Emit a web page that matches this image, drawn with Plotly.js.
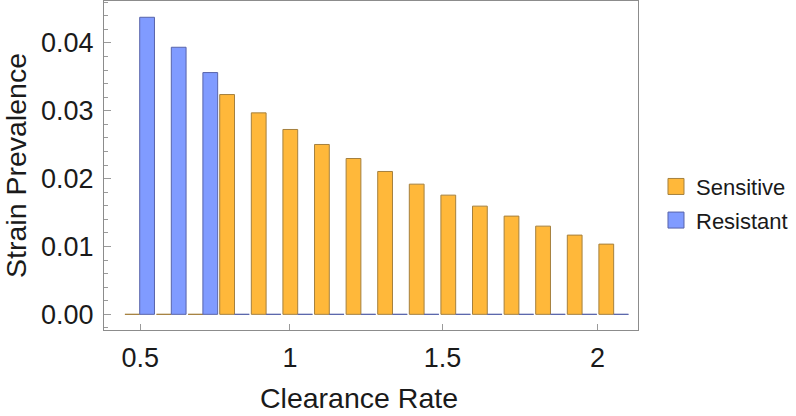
<!DOCTYPE html>
<html><head><meta charset="utf-8">
<script src="https://cdn.plot.ly/plotly-3.0.1.min.js"></script>
<style>html,body{margin:0;padding:0;background:#fff}#chart{width:796px;height:416px}</style>
</head><body><div id="chart"></div>
<script>
// Data
const clearanceRates = [0.5, 0.6, 0.7, 0.8, 0.9, 1.0, 1.1, 1.2, 1.3, 1.4, 1.5, 1.6, 1.7, 1.8, 1.9, 2.0];
const sensitive = [0, 0, 0, 0.0324, 0.0297, 0.02725, 0.02504, 0.02297, 0.02106, 0.01919, 0.01757, 0.01595, 0.01448, 0.0130, 0.01168, 0.01035];
const resistant = [0.04379, 0.03937, 0.03564, 0, 0, 0, 0, 0, 0, 0, 0, 0, 0, 0, 0, 0];
const xTickLabels = ["0.5", "1", "1.5", "2"];
const seriesNames = ["Sensitive", "Resistant"];

const FONT = "Liberation Sans, Arial, Helvetica, sans-serif";
const ORANGE = "rgb(255,184,58)", ORANGE_EDGE = "rgb(165,128,62)";
const BLUE = "rgb(128,155,255)", BLUE_EDGE = "rgb(88,100,170)";

const idx = clearanceRates.map((_, i) => i);

const traces = [
  {type: "bar", x: idx, y: sensitive, name: seriesNames[0], showlegend: false,
   marker: {color: ORANGE, line: {color: ORANGE_EDGE, width: 1}}, hoverinfo: "skip"},
  {type: "bar", x: idx, y: resistant, name: seriesNames[1], showlegend: false,
   marker: {color: BLUE, line: {color: BLUE_EDGE, width: 1}}, hoverinfo: "skip"},
  {type: "scatter", mode: "markers", x: [null], y: [null], name: seriesNames[0], legendgroup: "a",
   marker: {symbol: "square", size: 16, color: ORANGE, line: {color: ORANGE_EDGE, width: 1}}},
  {type: "scatter", mode: "markers", x: [null], y: [null], name: seriesNames[1], legendgroup: "b",
   marker: {symbol: "square", size: 16, color: BLUE, line: {color: BLUE_EDGE, width: 1}}}
];

const layout = {
  width: 796, height: 416,
  margin: {l: 104, r: 158, t: 1, b: 86},
  paper_bgcolor: "#fff", plot_bgcolor: "#fff",
  font: {family: FONT, color: "#1a1a1a"},
  barmode: "group", bargap: 0.065, bargroupgap: 0,
  showlegend: true,
  legend: {x: 1.0337, xanchor: "left", y: 0.384, yanchor: "middle",
           font: {family: FONT, size: 22, color: "#1a1a1a"}, tracegroupgap: 2,
           bgcolor: "rgba(0,0,0,0)", borderwidth: 0},
  xaxis: {
    range: [-1.13, 15.77], tickmode: "array",
    tickvals: [0.02, 4.756, 9.58, 14.49], ticktext: xTickLabels,
    ticks: "inside", ticklen: 6, tickcolor: "#9a9a9a", tickwidth: 1,
    showline: true, mirror: true, linecolor: "#8c8c8c", linewidth: 1,
    showgrid: false, zeroline: false,
    tickfont: {family: FONT, size: 27, color: "#1a1a1a"},
    ticklabelstandoff: 4
  },
  yaxis: {
    range: [-0.00231, 0.04619], dtick: 0.01, tick0: 0, tickformat: ".2f",
    ticks: "inside", ticklen: 7, tickcolor: "#9a9a9a", tickwidth: 1,
    minor: {dtick: 0.002, ticks: "inside", ticklen: 4, tickcolor: "#9a9a9a", tickwidth: 1, showgrid: false},
    showline: true, mirror: true, linecolor: "#8c8c8c", linewidth: 1,
    showgrid: false, zeroline: false,
    tickfont: {family: FONT, size: 27, color: "#1a1a1a"},
    ticklabelstandoff: 4,
    title: {text: "Strain Prevalence", font: {family: FONT, size: 28.5, color: "#1a1a1a"}, standoff: 8}
  },
  annotations: [{
    text: "Clearance Rate", xref: "paper", yref: "paper",
    x: 0.4775, y: -0.2067, xanchor: "center", yanchor: "middle", showarrow: false,
    font: {family: FONT, size: 28.5, color: "#1a1a1a"}
  }]
};

Plotly.newPlot("chart", traces, layout, {displayModeBar: false, staticPlot: true});
</script></body></html>
